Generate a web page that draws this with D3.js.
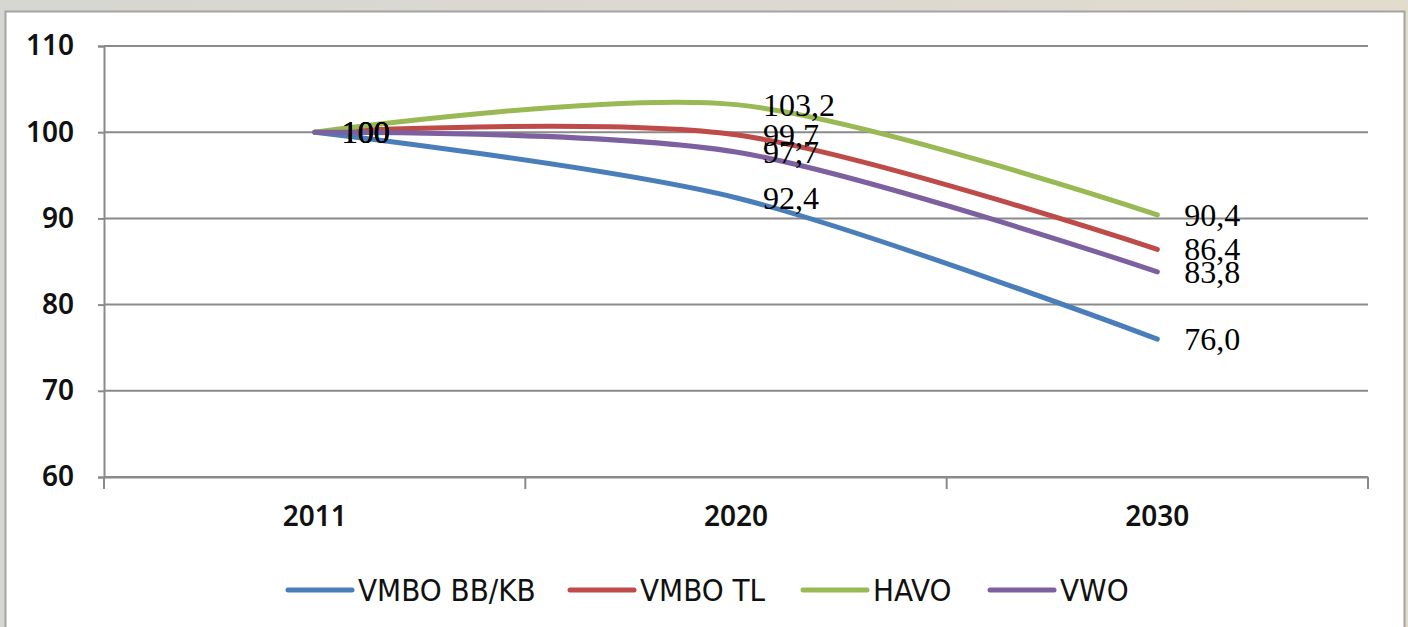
<!DOCTYPE html>
<html>
<head>
<meta charset="utf-8">
<script src="https://cdn.jsdelivr.net/npm/d3@7"></script>
<style>
  html, body { margin: 0; padding: 0; background: #dcd8d0; }
  svg { display: block; }
</style>
</head>
<body>
<div id="chart"></div>
<script>
var width = 1408, height = 627;

// data
var years = ["2011", "2020", "2030"];
var seriesNames = ["VMBO BB/KB", "VMBO TL", "HAVO", "VWO"];
var seriesColors = ["#4a7ebb", "#be4b48", "#98b954", "#7d60a0"];
var vmboBB = [100, 92.4, 76.0];
var vmboTL = [100, 99.7, 86.4];
var havo = [100, 103.2, 90.4];
var vwo = [100, 97.7, 83.8];
var yTicks = [60, 70, 80, 90, 100, 110];

var seriesValues = [vmboBB, vmboTL, havo, vwo];
var series = seriesNames.map(function (n, i) {
    return { name: n, color: seriesColors[i], values: seriesValues[i] };
});

var svg = d3.select("#chart").append("svg")
    .attr("width", width)
    .attr("height", height);

// outer background + white panel
var bg = svg.append("defs").append("linearGradient")
    .attr("id", "bg").attr("x1", 0).attr("x2", 1).attr("y1", 0).attr("y2", 0);
bg.append("stop").attr("offset", "0%").attr("stop-color", "#d6d6d2");
bg.append("stop").attr("offset", "60%").attr("stop-color", "#ddd9d0");
bg.append("stop").attr("offset", "100%").attr("stop-color", "#e2dccd");
svg.append("rect").attr("width", width).attr("height", height).attr("fill", "url(#bg)");
svg.append("rect")
    .attr("x", 5.5).attr("y", 11.5)
    .attr("width", 1399).attr("height", 630)
    .attr("fill", "#fff")
    .attr("stroke", "#a3a3a3")
    .attr("stroke-width", 2);

var x = d3.scaleBand()
    .domain(years)
    .range([104, 1368]);

var y = d3.scaleLinear()
    .domain([60, 110])
    .range([477, 46]);

var axisFont = "'Noto Sans', 'DejaVu Sans', sans-serif";

// gridlines
svg.append("g")
    .selectAll("line")
    .data(yTicks)
    .enter().append("line")
    .attr("x1", 104).attr("x2", 1368)
    .attr("y1", function (d) { return y(d); })
    .attr("y2", function (d) { return y(d); })
    .attr("stroke", "#8a8a8a")
    .attr("stroke-width", 2);

// y axis
var yAxis = svg.append("g")
    .attr("transform", "translate(104,0)")
    .call(d3.axisLeft(y).tickValues(yTicks).tickSize(6).tickPadding(24));
yAxis.select(".domain").attr("stroke", "#8a8a8a").attr("stroke-width", 2);
yAxis.selectAll(".tick line").attr("stroke", "#8a8a8a").attr("stroke-width", 2);
yAxis.selectAll("text")
    .attr("fill", "#111")
    .style("font-family", axisFont)
    .style("font-weight", "600")
    .style("font-size", "28px");

// x axis with ticks at band boundaries
var xAxis = svg.append("g")
    .attr("transform", "translate(0,477)")
    .call(d3.axisBottom(x).tickSize(0).tickPadding(29));
xAxis.select(".domain").attr("stroke", "#8a8a8a").attr("stroke-width", 2);
xAxis.selectAll("text")
    .attr("fill", "#111")
    .style("font-family", axisFont)
    .style("font-weight", "600")
    .style("font-size", "28px");

var bounds = years.map(function (d) { return x(d); }).concat([x.range()[1]]);
svg.append("g")
    .selectAll("line")
    .data(bounds)
    .enter().append("line")
    .attr("x1", function (d) { return d; })
    .attr("x2", function (d) { return d; })
    .attr("y1", 477).attr("y2", 489)
    .attr("stroke", "#8a8a8a")
    .attr("stroke-width", 2);

var cx = function (i) { return x(years[i]) + x.bandwidth() / 2; };

var line = d3.line()
    .x(function (d, i) { return cx(i); })
    .y(function (d) { return y(d); })
    .curve(d3.curveCardinal.tension(0.1));

svg.append("g")
    .selectAll("path")
    .data(series)
    .enter().append("path")
    .attr("d", function (d) { return line(d.values); })
    .attr("fill", "none")
    .attr("stroke", function (d) { return d.color; })
    .attr("stroke-width", 5)
    .attr("stroke-linecap", "round");

// data labels
var fmt = function (v, i) {
    if (i === 0) return "100";
    return v.toFixed(1).replace(".", ",");
};
series.forEach(function (s) {
    svg.append("g")
        .selectAll("text")
        .data(s.values)
        .enter().append("text")
        .attr("x", function (d, i) { return cx(i) + 27; })
        .attr("y", function (d) { return y(d); })
        .attr("dominant-baseline", "central")
        .attr("fill", "#000")
        .style("font-family", "'Liberation Serif', 'DejaVu Serif', serif")
        .style("font-size", "32px")
        .text(fmt);
});

// legend
var legendX = [288, 570, 803, 990];
var legend = svg.append("g")
    .selectAll("g")
    .data(series)
    .enter().append("g")
    .attr("transform", function (d, i) { return "translate(" + legendX[i] + ",590)"; });
legend.append("line")
    .attr("x1", 0).attr("x2", 64)
    .attr("stroke", function (d) { return d.color; })
    .attr("stroke-width", 5)
    .attr("stroke-linecap", "round");
legend.append("text")
    .attr("x", 70)
    .attr("dominant-baseline", "central")
    .attr("fill", "#111")
    .style("font-family", "'Liberation Sans Narrow', 'DejaVu Sans Condensed', sans-serif")
    .style("font-stretch", "condensed")
    .style("font-size", "31px")
    .text(function (d) { return d.name; });
</script>
</body>
</html>
